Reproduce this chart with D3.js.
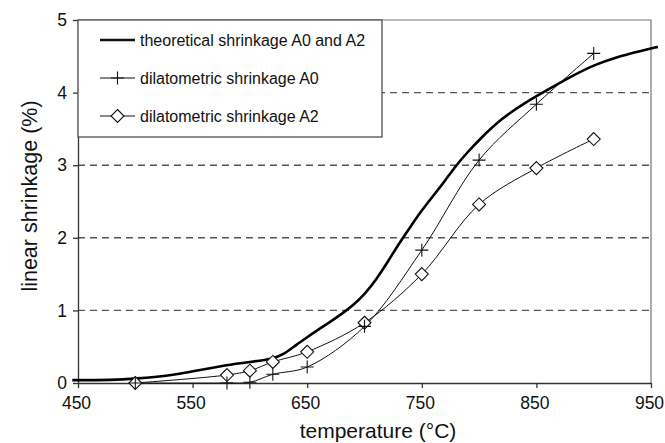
<!DOCTYPE html>
<html>
<head>
<meta charset="utf-8">
<script src="https://cdn.jsdelivr.net/npm/d3@7"></script>
<style>
  body { margin: 0; background: #fff; }
  svg { display: block; font-family: "Liberation Sans", Arial, sans-serif; }
</style>
</head>
<body>
<svg id="chart" width="665" height="443"></svg>
<script>
// theoretical shrinkage A0 and A2 (thick smooth curve)
const theoT = [445, 480, 500, 530, 550, 580, 600, 620, 630, 640, 650, 660, 670, 680, 690, 700, 710, 720, 730, 740, 750, 760, 770, 780, 790, 800, 820, 840, 860, 880, 900, 920, 940, 956];
const theoV = [0.04, 0.04, 0.06, 0.10, 0.16, 0.25, 0.29, 0.33, 0.40, 0.52, 0.63, 0.74, 0.84, 0.95, 1.07, 1.22, 1.42, 1.66, 1.92, 2.15, 2.38, 2.58, 2.78, 3.00, 3.18, 3.35, 3.65, 3.86, 4.04, 4.22, 4.38, 4.49, 4.57, 4.63];

// dilatometric measurements
const dilT = [500, 580, 600, 620, 650, 700, 750, 800, 850, 900];
const dilA0 = [0, 0, 0.01, 0.12, 0.22, 0.78, 1.83, 3.07, 3.84, 4.54];
const dilA2 = [0, 0.11, 0.17, 0.29, 0.43, 0.83, 1.50, 2.46, 2.96, 3.36];

const xTicks = [450, 550, 650, 750, 850, 950];
const yTicks = [0, 1, 2, 3, 4, 5];
const legendLabels = ["theoretical shrinkage A0 and A2", "dilatometric shrinkage A0", "dilatometric shrinkage A2"];

const svg = d3.select("#chart");
const margin = { left: 78, right: 651, top: 20, bottom: 383 };

const x = d3.scaleLinear().domain([450, 950]).range([margin.left, margin.right]);
const y = d3.scaleLinear().domain([0, 5]).range([margin.bottom, margin.top]);

// dashed gridlines
svg.append("g")
  .selectAll("line")
  .data(yTicks.filter(d => d > 0 && d < 5))
  .join("line")
  .attr("x1", margin.left).attr("x2", margin.right)
  .attr("y1", d => y(d)).attr("y2", d => y(d))
  .attr("stroke", "#555").attr("stroke-width", 1.4)
  .attr("stroke-dasharray", "7,5");

// frame top / right
svg.append("path")
  .attr("d", `M${margin.left},${margin.top}H${margin.right}V${margin.bottom}`)
  .attr("fill", "none").attr("stroke", "#777").attr("stroke-width", 1.2);

// axes
const xAxis = svg.append("g")
  .attr("transform", `translate(0,${margin.bottom})`)
  .call(d3.axisBottom(x).tickValues(xTicks).tickFormat(d3.format("d"))
    .tickSize(5).tickSizeOuter(0).tickPadding(9));
const yAxis = svg.append("g")
  .attr("transform", `translate(${margin.left},0)`)
  .call(d3.axisLeft(y).tickValues(yTicks).tickFormat(d3.format("d"))
    .tickSize(5).tickSizeOuter(0).tickPadding(6));

[xAxis, yAxis].forEach(g => {
  g.select(".domain").attr("stroke", "#333").attr("stroke-width", 1.3);
  g.selectAll(".tick line").attr("stroke", "#333").attr("stroke-width", 1.3);
  g.selectAll(".tick text").attr("font-size", 17.5).attr("fill", "#111")
    .attr("font-family", "Liberation Sans, Arial, sans-serif");
});
xAxis.selectAll(".tick text").attr("dx", -2);

// axis titles
svg.append("text")
  .attr("x", 378).attr("y", 438)
  .attr("text-anchor", "middle").attr("font-size", 21).attr("fill", "#111")
  .text("temperature (°C)");
svg.append("text")
  .attr("transform", "translate(37,196) rotate(-90)")
  .attr("text-anchor", "middle").attr("font-size", 21.5).attr("fill", "#111")
  .text("linear shrinkage (%)");

// theoretical curve
const theo = theoT.map((t, i) => [t, theoV[i]]);
svg.append("path")
  .datum(theo)
  .attr("fill", "none").attr("stroke", "#000").attr("stroke-width", 2.6)
  .attr("d", d3.line().x(d => x(d[0])).y(d => y(d[1])).curve(d3.curveBasis));

// dilatometric lines
const a0 = dilT.map((t, i) => [t, dilA0[i]]);
const a2 = dilT.map((t, i) => [t, dilA2[i]]);
const thin = d3.line().x(d => x(d[0])).y(d => y(d[1])).curve(d3.curveCatmullRom.alpha(0.5));

svg.append("path").datum(a0)
  .attr("fill", "none").attr("stroke", "#111").attr("stroke-width", 1).attr("d", thin);
svg.append("path").datum(a2)
  .attr("fill", "none").attr("stroke", "#111").attr("stroke-width", 1).attr("d", thin);

function plus(g, cx, cy) {
  g.append("path")
    .attr("d", `M${cx - 6.5},${cy}H${cx + 6.5}M${cx},${cy - 6.5}V${cy + 6.5}`)
    .attr("stroke", "#111").attr("stroke-width", 1.1);
}
function diamond(g, cx, cy) {
  g.append("path")
    .attr("d", `M${cx},${cy - 6.5}L${cx + 6.5},${cy}L${cx},${cy + 6.5}L${cx - 6.5},${cy}Z`)
    .attr("fill", "#fff").attr("stroke", "#111").attr("stroke-width", 1.1);
}

const marks = svg.append("g");
a2.forEach(d => diamond(marks, x(d[0]), y(d[1])));
a0.forEach(d => plus(marks, x(d[0]), y(d[1])));

// legend
const lg = svg.append("g");
lg.append("rect")
  .attr("x", margin.left).attr("y", margin.top)
  .attr("width", 382 - margin.left).attr("height", 137 - margin.top)
  .attr("fill", "#fff").attr("stroke", "#444").attr("stroke-width", 1.2);

const rowY = [40, 78, 116];
legendLabels.forEach((lab, i) => {
  lg.append("line")
    .attr("x1", 100).attr("x2", 135).attr("y1", rowY[i]).attr("y2", rowY[i])
    .attr("stroke", "#111").attr("stroke-width", i === 0 ? 2.6 : 1);
  if (i === 1) plus(lg, 117.5, rowY[i]);
  if (i === 2) diamond(lg, 117.5, rowY[i]);
  lg.append("text")
    .attr("x", 140).attr("y", rowY[i] + 5.5)
    .attr("font-size", 16).attr("fill", "#111")
    .text(lab);
});
</script>
</body>
</html>
